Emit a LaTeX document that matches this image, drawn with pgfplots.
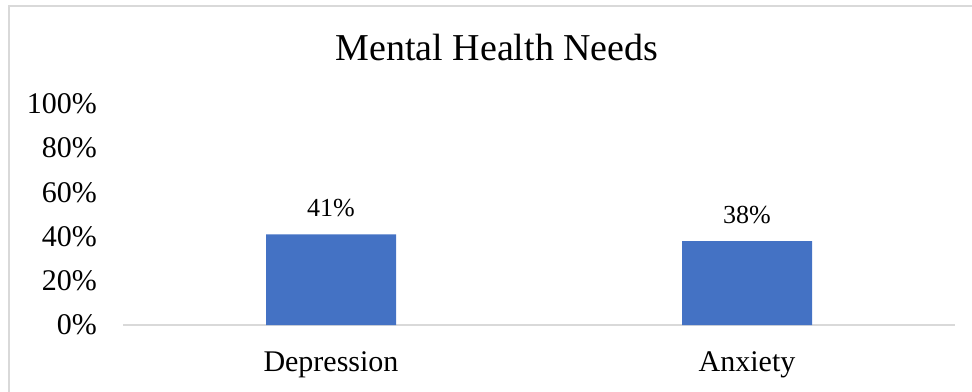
\documentclass[border=0pt]{standalone}
\usepackage{pgfplots}
\pgfplotsset{compat=1.18}
\usepackage{fontspec}
\setmainfont{Liberation Serif}
\definecolor{barblue}{HTML}{4472C4}
\definecolor{framegray}{HTML}{D9D9D9}
\begin{document}
\begin{tikzpicture}[x=1pt,y=1pt]
\useasboundingbox (0,0) rectangle (972,391);
\draw[framegray, line width=1.2pt] (9,-5) -- (9,385) -- (980,385);
\node[font=\fontsize{38}{46}\selectfont] at (497,343) {Mental Health Needs};
\begin{axis}[
  at={(123pt,66pt)}, anchor=south west,
  scale only axis, width=832pt, height=221pt,
  xmin=-0.5, xmax=1.5, ymin=0, ymax=100,
  axis x line*=bottom, axis y line*=left,
  y axis line style={draw=none},
  x axis line style={framegray, line width=1.2pt},
  ytick={0,20,...,100},
  yticklabel={\pgfmathprintnumber{\tick}\%},
  xtick={0,1}, xticklabels={Depression,Anxiety},
  major tick length=0pt,
  tick label style={font=\fontsize{30}{36}\selectfont},
  /pgf/number format/assume math mode=true,
  yticklabel style={inner sep=0pt, xshift=-26pt},
  xticklabel style={anchor=north, inner sep=0pt, yshift=-26pt},
  ybar, bar width=130pt,
  nodes near coords={\pgfmathprintnumber{\pgfplotspointmeta}\%},
  nodes near coords style={font=\fontsize{26}{31}\selectfont, inner sep=0pt, anchor=south, yshift=17pt, /pgf/number format/assume math mode=true},
  clip=false,
]
\addplot[fill=barblue, draw=none] coordinates {(0,41) (1,38)};
\end{axis}
\end{tikzpicture}
\end{document}
